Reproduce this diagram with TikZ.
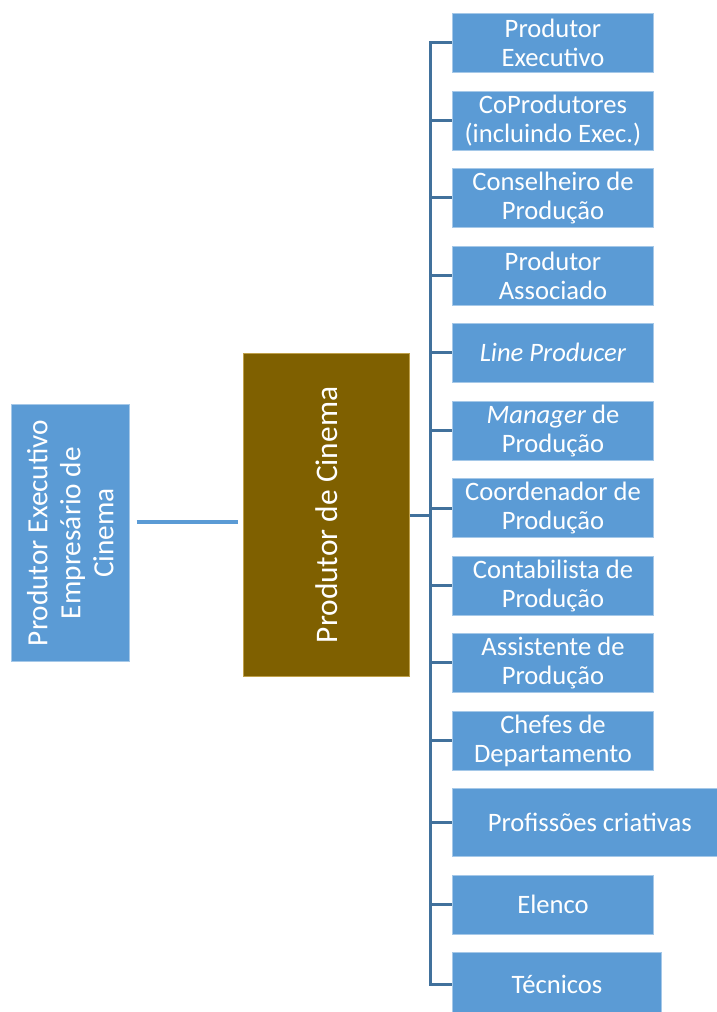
\documentclass[tikz,border=0pt]{standalone}
\usepackage{fontspec}
\setmainfont{Carlito}
\definecolor{boxblue}{HTML}{5B9BD5}
\definecolor{prodbrown}{HTML}{7F6000}
\definecolor{prodedge}{HTML}{BFA04A}
\definecolor{linkblue}{HTML}{41719C}
\begin{document}
\begin{tikzpicture}[x=1pt,y=-1pt,
  rolebox/.style={fill=boxblue, draw=boxblue!55!white, line width=0.6pt, text=white,
    inner sep=0pt, minimum width=200.6pt, minimum height=59pt, align=center,
    font=\fontsize{26.6}{29}\selectfont},
  link/.style={draw=linkblue, line width=3pt},
  lightlink/.style={draw=boxblue, line width=4pt}]
\useasboundingbox (0,0) rectangle (717,1012);
\clip (0,0) rectangle (717,1012);

\node[fill=boxblue, draw=boxblue!55!white, line width=0.6pt, text=white, inner sep=0pt,
  minimum width=118.7pt, minimum height=257.4pt] (exec) at (70.3,533) {};
\node[rotate=90, text=white, align=center, font=\fontsize{29.3}{33}\selectfont] (execlabel) at (exec.center)
  {Produtor Executivo\\Empresário de\\Cinema};

\node[fill=prodbrown, draw=prodedge, line width=0.6pt, text=white, inner sep=0pt,
  minimum width=166pt, minimum height=323.4pt] (prod) at (326.3,515) {};
\node[rotate=90, text=white, font=\fontsize{31.4}{36}\selectfont] (prodlabel) at (prod.center)
  {Produtor de Cinema};

\node[rolebox] (r1) at (553,42.7) {Produtor\\Executivo};
\node[rolebox] (r2) at (553,120.3) {CoProdutores\\(incluindo Exec.)};
\node[rolebox] (r3) at (553,197.8) {Conselheiro de\\Produção};
\node[rolebox] (r4) at (553,275.5) {Produtor\\Associado};
\node[rolebox] (r5) at (553,352.8) {\textit{Line Producer}};
\node[rolebox] (r6) at (553,430.5) {\textit{Manager} de\\Produção};
\node[rolebox] (r7) at (553,508) {Coordenador de\\Produção};
\node[rolebox] (r8) at (553,585.5) {Contabilista de\\Produção};
\node[rolebox] (r9) at (553,662.8) {Assistente de\\Produção};
\node[rolebox] (r10) at (553,740.5) {Chefes de\\Departamento};
\node[rolebox, minimum width=274pt, minimum height=67.7pt] (r11) at (589.7,822.2) {Profissões criativas};
\node[rolebox] (r12) at (553,904.5) {Elenco};
\node[rolebox, minimum width=208.6pt, minimum height=64.3pt] (r13) at (557,984.8) {Técnicos};

\coordinate (trunkx) at (430.7,0);
\coordinate (lc) at (0,522);

\draw[lightlink, shorten <=6.6pt, shorten >=4.6pt] (exec.east |- lc) -- (prod.west |- lc);
\draw[link] (prod.east) -- (prod.east -| trunkx);
\draw[link] (r1.west) -- (r1.west -| trunkx) -- (r13.west -| trunkx) -- (r13.west);
\foreach \i in {2,...,12} {
  \draw[link] (r\i.west -| trunkx) -- (r\i.west);
}
\end{tikzpicture}
\end{document}
